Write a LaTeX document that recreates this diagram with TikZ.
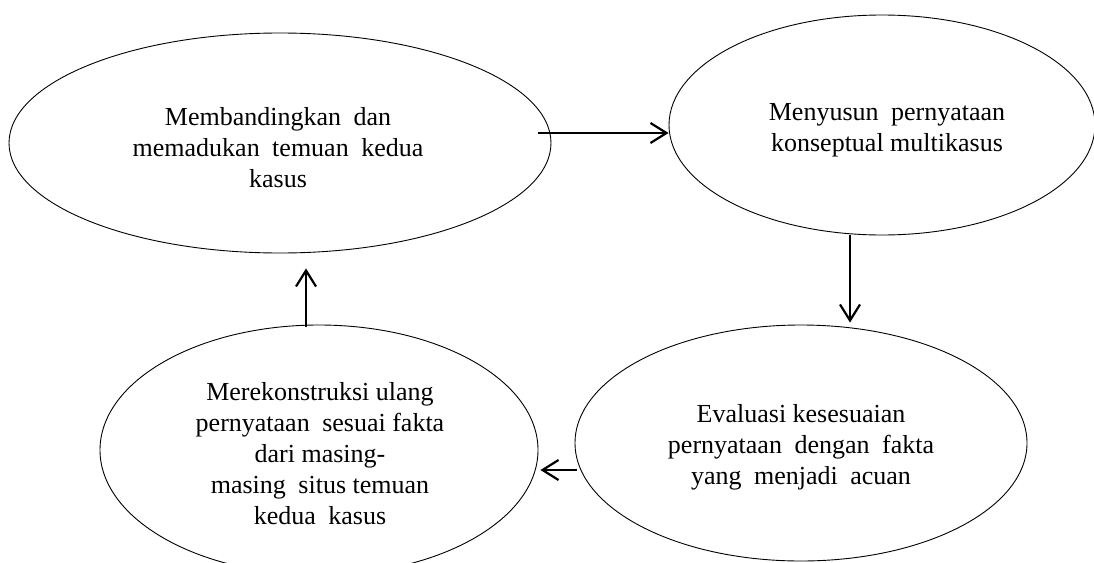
\documentclass[tikz,border=0pt]{standalone}
\usepackage{fontspec}
\setmainfont{Liberation Serif}
\usetikzlibrary{shapes.geometric,arrows.meta}
\newcommand\wsp{\hspace{6pt}\ }
\begin{document}
\begin{tikzpicture}[x=1pt,y=-1pt,
  bub/.style={ellipse,draw,line width=0.9pt,inner sep=0pt},
  txt/.style={inner sep=0pt,align=center,font=\fontsize{26}{31}\selectfont},
  arr/.style={-{Straight Barb[length=16pt,width=20pt]},line width=2.2pt}]
\useasboundingbox (0,0) rectangle (1094,562);
\clip (0,0) rectangle (1094,562);
\node[bub,minimum width=542pt,minimum height=220pt] (e1) at (280,143) {};
\node[bub,minimum width=426pt,minimum height=220pt] (e2) at (882,125) {};
\node[bub,minimum width=452pt,minimum height=236pt] (e3) at (801,443) {};
\node[bub,minimum width=438pt,minimum height=250pt] (e4) at (319,450) {};
\node[txt] (t1) at ([shift={(-2,5)}]e1.center)
  {Membandingkan\wsp dan\\memadukan\wsp temuan\wsp kedua\\kasus};
\node[txt] (t2) at ([shift={(5,5)}]e2.center)
  {Menyusun\wsp pernyataan\\konseptual multikasus};
\node[txt] (t3) at ([shift={(0,4)}]e3.center)
  {Evaluasi kesesuaian\\pernyataan\wsp dengan\wsp fakta\\yang\wsp menjadi\wsp acuan};
\node[txt] (t4) at ([shift={(1,4)}]e4.center)
  {Merekonstruksi ulang\\pernyataan\wsp sesuai fakta\\dari masing-\\masing\wsp situs temuan\\kedua\wsp kasus};
\draw[arr] ([shift={(-13,-10)}]e1.east) -- ([shift={(0,8)}]e2.west);
\draw[arr] ([shift={(-32,0)}]e2.south) -- ([shift={(49,-2)}]e3.north);
\draw[arr] ([shift={(2,27)}]e3.west) -- ([shift={(2,20)}]e4.east);
\draw[arr] ([shift={(-13,2)}]e4.north) -- ([shift={(26,15)}]e1.south);
\end{tikzpicture}
\end{document}
